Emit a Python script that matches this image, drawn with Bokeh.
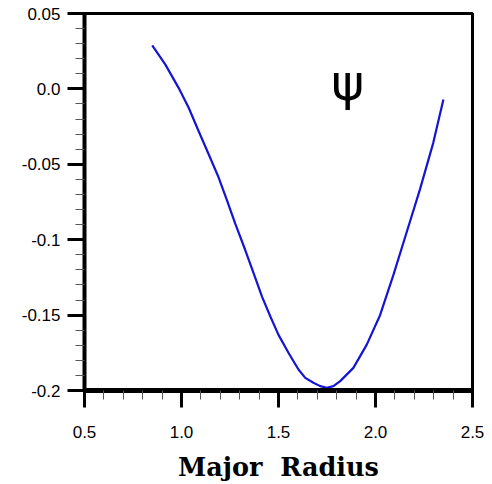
from bokeh.plotting import figure
from bokeh.models import Range1d, FixedTicker, Label
from bokeh.embed import file_html
from bokeh.resources import INLINE

# Data
radius = [0.849, 0.917, 0.985, 1.037, 1.088, 1.140, 1.191, 1.235, 1.277, 1.329,
          1.372, 1.415, 1.458, 1.500, 1.552, 1.603, 1.638, 1.680, 1.715, 1.749,
          1.783, 1.818, 1.886, 1.955, 2.024, 2.092, 2.161, 2.230, 2.298, 2.350]
psi = [0.0288, 0.0161, 0.0007, -0.0125, -0.0279, -0.0433, -0.0586, -0.0741,
       -0.0894, -0.1070, -0.1224, -0.1377, -0.1509, -0.1631, -0.1751, -0.1861,
       -0.1916, -0.1949, -0.1971, -0.1982, -0.1971, -0.1938, -0.1850, -0.1696,
       -0.1499, -0.1235, -0.0949, -0.0663, -0.0356, -0.0070]

x_ticks = [0.5, 1.0, 1.5, 2.0, 2.5]
x_tick_labels = ["0.5", "1.0", "1.5", "2.0", "2.5"]
y_ticks = [0.05, 0.0, -0.05, -0.1, -0.15, -0.2]
y_tick_labels = ["0.05", "0.0", "-0.05", "-0.1", "-0.15", "-0.2"]
x_minor = [0.6, 0.7, 0.8, 0.9, 1.1, 1.2, 1.3, 1.4, 1.6, 1.7, 1.8, 1.9,
           2.1, 2.2, 2.3, 2.4]
y_minor = [0.04, 0.03, 0.02, 0.01, -0.01, -0.02, -0.03, -0.04, -0.06, -0.07,
           -0.08, -0.09, -0.11, -0.12, -0.13, -0.14, -0.16, -0.17, -0.18, -0.19]

p = figure(width=492, height=484, output_backend="svg", toolbar_location=None,
           x_range=Range1d(0.5, 2.5), y_range=Range1d(-0.2, 0.05),
           min_border_left=84, min_border_right=20, min_border_top=13,
           min_border_bottom=91)
p.grid.visible = False
p.outline_line_color = "black"
p.outline_line_width = 3
p.background_fill_color = "white"
p.border_fill_color = "white"

p.line(radius, psi, line_color="#1414d6", line_width=2.2)

p.add_layout(Label(x=1.857, y=0.004, text="ψ", text_font="DejaVu Sans",
                   text_font_size="50px", text_align="center",
                   text_baseline="middle", text_color="black"))

for ax, ticks, labels, minor, width in (
        (p.xaxis[0], x_ticks, x_tick_labels, x_minor, 5),
        (p.yaxis[0], y_ticks, y_tick_labels, y_minor, 4)):
    ax.ticker = FixedTicker(ticks=ticks, minor_ticks=minor)
    ax.major_label_overrides = {t: l for t, l in zip(ticks, labels)}
    ax.axis_line_width = width
    ax.axis_line_color = "black"
    ax.major_tick_line_color = "black"
    ax.major_tick_line_width = 3
    ax.major_tick_out = 17
    ax.major_tick_in = 0
    ax.minor_tick_out = 9
    ax.minor_tick_in = 0
    ax.minor_tick_line_color = "#555555"
    ax.minor_tick_line_width = 1
    ax.major_label_text_font = "Liberation Sans"
    ax.major_label_text_font_size = "17px"
    ax.major_label_text_color = "black"

xa = p.xaxis[0]
xa.major_label_standoff = 18
xa.axis_label = "Major\u00a0\u00a0Radius"
xa.axis_label_text_font = "DejaVu Serif"
xa.axis_label_text_font_style = "bold"
xa.axis_label_text_font_size = "25.5px"
xa.axis_label_text_color = "black"
xa.axis_label_standoff = 11

ya = p.yaxis[0]
ya.major_label_standoff = 7
ya.major_label_orientation = "horizontal"

open("out.html", "w").write(file_html(p, INLINE))
